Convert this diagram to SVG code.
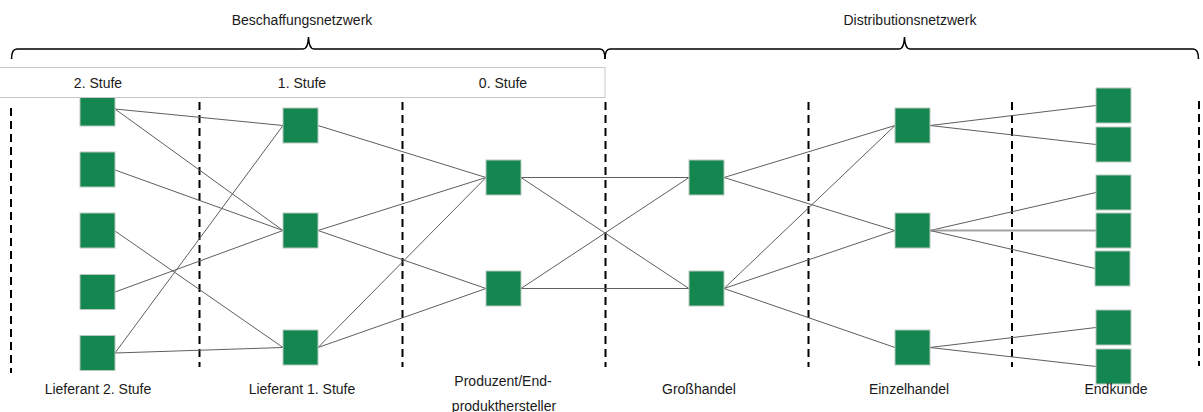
<svg xmlns="http://www.w3.org/2000/svg" width="1203" height="412" viewBox="0 0 1203 412">
<style>
  text { font-family: "Liberation Sans", Arial, sans-serif; font-size: 14px; fill: #1a1a1a; text-anchor: middle; }
  .node { fill: #13874f; stroke: #b8c8bf; stroke-width: 1; }
  .conn line { stroke: #5e5e5e; stroke-width: 1; }
  .conn line.light { stroke: #a3a3a3; stroke-width: 2; }
  .dash { stroke: #000; stroke-width: 2; stroke-dasharray: 8 5; }
  .brace { fill: none; stroke: #000; stroke-width: 1.5; }
</style>

<g id="braces">
  <path class="brace" d="M11.5 59 Q11.5 49 17 49 L303 49 Q308 49 308.5 37 Q309 49 314 49 L600 49 Q605 49 605 59"/>
  <path class="brace" d="M605 59 Q605 49 610 49 L899 49 Q904 49 904.5 37 Q905 49 910 49 L1193 49 Q1198.5 49 1198.5 59"/>
  <text x="302" y="25">Beschaffungsnetzwerk</text>
  <text x="910" y="25">Distributionsnetzwerk</text>
</g>

<g id="dividers">
  <line class="dash" x1="11" y1="108" x2="11" y2="373"/>
  <line class="dash" x1="199.5" y1="102" x2="199.5" y2="367"/>
  <line class="dash" x1="402.5" y1="102" x2="402.5" y2="367"/>
  <line class="dash" x1="605.5" y1="102" x2="605.5" y2="367"/>
  <line class="dash" x1="808.5" y1="102" x2="808.5" y2="367"/>
  <line class="dash" x1="1012" y1="102" x2="1012" y2="367"/>
  <line class="dash" x1="1199" y1="101" x2="1199" y2="366"/>
</g>

<g class="conn" id="connectors">
  <line x1="115" y1="109" x2="283" y2="125.5"/>
  <line x1="115" y1="109" x2="283" y2="230.5"/>
  <line x1="115" y1="170" x2="283" y2="230.5"/>
  <line x1="115" y1="231" x2="283" y2="347.5"/>
  <line x1="115" y1="292" x2="283" y2="230.5"/>
  <line x1="115" y1="353" x2="283" y2="125.5"/>
  <line x1="115" y1="353" x2="283" y2="347.5"/>

  <line x1="318" y1="125.5" x2="486" y2="177.5"/>
  <line x1="318" y1="230.5" x2="486" y2="177.5"/>
  <line x1="318" y1="230.5" x2="486" y2="288.5"/>
  <line x1="318" y1="347.5" x2="486" y2="177.5"/>
  <line x1="318" y1="347.5" x2="486" y2="288.5"/>

  <line x1="521" y1="177.5" x2="689" y2="177.5"/>
  <line x1="521" y1="177.5" x2="689" y2="288.5"/>
  <line x1="521" y1="288.5" x2="689" y2="177.5"/>
  <line x1="521" y1="288.5" x2="689" y2="288.5"/>

  <line x1="724" y1="177.5" x2="895" y2="125.5"/>
  <line x1="724" y1="177.5" x2="895" y2="230.5"/>
  <line x1="724" y1="288.5" x2="895" y2="125.5"/>
  <line x1="724" y1="288.5" x2="895" y2="230.5"/>
  <line x1="724" y1="288.5" x2="895" y2="347.5"/>

  <line x1="930" y1="125.5" x2="1096" y2="105.5"/>
  <line x1="930" y1="125.5" x2="1096" y2="144.5"/>
  <line x1="930" y1="230.5" x2="1096" y2="192.5"/>
  <line class="light" x1="930" y1="230.5" x2="1096" y2="230.5"/>
  <line x1="930" y1="230.5" x2="1095" y2="268.5"/>
  <line x1="930" y1="347.5" x2="1096" y2="327.5"/>
  <line x1="930" y1="347.5" x2="1096" y2="366.5"/>
</g>

<g id="lieferant2-1"><rect class="node" x="80" y="91" width="35" height="35"/></g>
<g id="lieferant2-2"><rect class="node" x="80" y="152" width="35" height="35"/></g>
<g id="lieferant2-3"><rect class="node" x="80" y="213" width="35" height="35"/></g>
<g id="lieferant2-4"><rect class="node" x="80" y="274.5" width="35" height="35"/></g>
<g id="lieferant2-5"><rect class="node" x="80" y="335.5" width="35" height="35"/></g>

<g id="lieferant1-1"><rect class="node" x="283" y="108" width="35" height="35"/></g>
<g id="lieferant1-2"><rect class="node" x="283" y="213" width="35" height="35"/></g>
<g id="lieferant1-3"><rect class="node" x="283" y="330" width="35" height="35"/></g>

<g id="produzent-1"><rect class="node" x="486" y="160" width="35" height="35"/></g>
<g id="produzent-2"><rect class="node" x="486" y="271" width="35" height="35"/></g>

<g id="grosshandel-1"><rect class="node" x="689" y="160" width="35" height="35"/></g>
<g id="grosshandel-2"><rect class="node" x="689" y="271" width="35" height="35"/></g>

<g id="einzelhandel-1"><rect class="node" x="895" y="108" width="35" height="35"/></g>
<g id="einzelhandel-2"><rect class="node" x="895" y="213" width="35" height="35"/></g>
<g id="einzelhandel-3"><rect class="node" x="895" y="330" width="35" height="35"/></g>

<g id="endkunde-1"><rect class="node" x="1096" y="88" width="35" height="35"/></g>
<g id="endkunde-2"><rect class="node" x="1096" y="127" width="35" height="35"/></g>
<g id="endkunde-3"><rect class="node" x="1096" y="175" width="35" height="35"/></g>
<g id="endkunde-4"><rect class="node" x="1096" y="213" width="35" height="35"/></g>
<g id="endkunde-5"><rect class="node" x="1095" y="251" width="35" height="35"/></g>
<g id="endkunde-6"><rect class="node" x="1096" y="310" width="35" height="35"/></g>
<g id="endkunde-7"><rect class="node" x="1096" y="349" width="35" height="35"/></g>

<g id="stufen-header">
  <rect x="-1" y="67.5" width="606" height="30" fill="#fff" stroke="#c8c8c8" stroke-width="1"/>
  <text x="98" y="88">2. Stufe</text>
  <text x="302" y="88">1. Stufe</text>
  <text x="503" y="88">0. Stufe</text>
</g>

<g id="labels">
  <text x="98" y="394">Lieferant 2. Stufe</text>
  <text x="302" y="394">Lieferant 1. Stufe</text>
  <text x="503" y="386">Produzent/End-</text>
  <text x="504" y="411">produkthersteller</text>
  <text x="699" y="394">Großhandel</text>
  <text x="909" y="394">Einzelhandel</text>
  <text x="1116" y="394">Endkunde</text>
</g>
</svg>
